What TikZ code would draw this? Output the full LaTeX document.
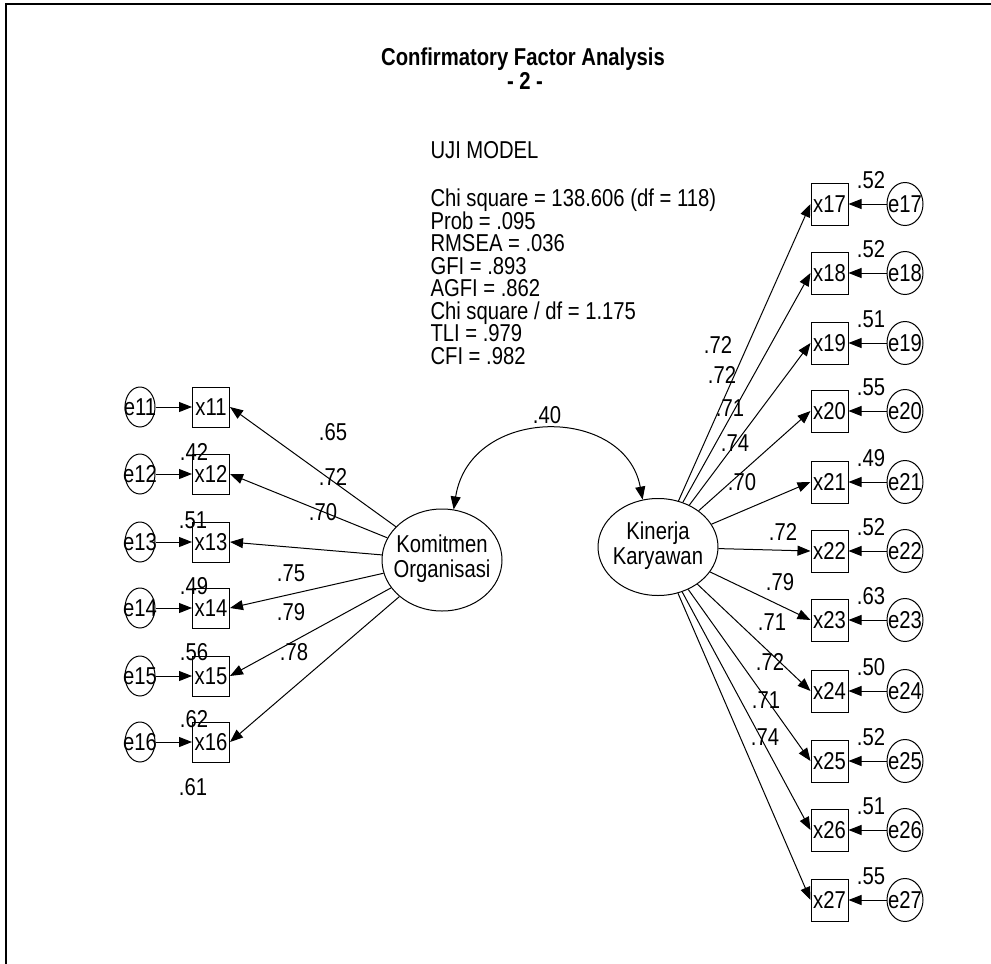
\documentclass[tikz,border=0pt]{standalone}
\usepackage{fontspec}
\setmainfont{Liberation Sans}[FakeStretch=0.83]
\usetikzlibrary{shapes.geometric}
\usetikzlibrary{arrows.meta}

\begin{document}
\begin{tikzpicture}[x=0.5pt,y=-0.5pt,line width=0.5pt,
        font=\fontsize{12.2}{12.5}\selectfont,
        obs/.style={draw,rectangle,inner sep=0pt,minimum width=18.5pt,minimum height=21pt},
        err/.style={draw,ellipse,inner sep=0pt,minimum width=17pt,minimum height=21pt},
        lat/.style={draw,ellipse,inner sep=0pt,minimum width=60pt,minimum height=51pt},
        arr/.style={-{Triangle[length=6.5pt,width=5pt]}},
        dblarr/.style={{Triangle[length=6.5pt,width=5pt]}-{Triangle[length=6.5pt,width=5pt]}}]
                \useasboundingbox (0,0) rectangle (991,964);
                \draw[line width=1.2pt] (6,964) -- (6,4) -- (991,4);
                \node[font=\fontsize{12.2}{12.5}\selectfont\bfseries] (title) at (523,59) {Confirmatory Factor Analysis};
                \node[font=\fontsize{12.2}{12.5}\selectfont\bfseries] (nr) at (525,81) {- 2 -};
                \node[anchor=base west,inner sep=0pt] (uji) at (430,158.7) {UJI MODEL};
                \foreach \t [count=\i from 0] in {Chi square = 138.606 (df = 118), Prob = .095, RMSEA = .036, GFI = .893,
                        AGFI = .862, Chi square / df = 1.175, TLI = .979, CFI = .982} {
                    \node[anchor=base west,inner sep=0pt] (fit\i) at (430,206.7+22.5*\i) {\t};
                }
                % faktor laten
                \node[lat] (kom) at (442,560) {\makebox[0pt]{\begin{tabular}{@{}c@{}}Komitmen\\Organisasi\end{tabular}}};
                \node[lat,minimum height=48.5pt] (kin) at (658,547) {\makebox[0pt]{\begin{tabular}{@{}c@{}}Kinerja\\Karyawan\end{tabular}}};
                \draw[dblarr] (kom.77) .. controls (470,405) and (625,405) .. (kin.108);
                \node (r40) at (547,415) {.40};
                % indikator kiri
                \foreach \n/\y in {11/407, 12/474, 13/542, 14/608, 15/676, 16/742} {
                    \node[obs,minimum height=20pt] (x\n) at (211,\y) {x\n};
                    \node[err,minimum width=15pt,minimum height=20pt] (e\n) at (140,\y) {\makebox[0pt]{e\n}};
                    \draw[arr] (e\n) -- (x\n);
                    \draw[arr] (kom) -- (x\n.east);
                }
                \foreach \v/\x/\y [count=\i] in {.42/194/452, .51/193/520, .49/194/586, .56/194/652, .62/194/719, .61/193/787} {
                    \node (rl\i) at (\x,\y) {\v};
                }
                \foreach \v/\x/\y [count=\i] in {.65/333/432, .72/333/477, .70/323/512, .75/291/573, .79/291/612, .78/294/652} {
                    \node (ll\i) at (\x,\y) {\v};
                }
                % indikator kanan
                \foreach \n/\y/\r in {17/204/.52, 18/273/.52, 19/343/.51, 20/411/.55, 21/482/.49, 22/551/.52,
                        23/620/.63, 24/691/.50, 25/761/.52, 26/830/.51, 27/900/.55} {
                    \node[obs] (x\n) at (829.5,\y) {x\n};
                    \node[err,minimum width=18pt,minimum height=21.5pt] (e\n) at (905,\y) {\makebox[0pt]{e\n}};
                    \draw[arr] (e\n) -- (x\n);
                    \draw[arr] (kin) -- (x\n.west);
                    \node (r\n) at (871,\y-24) {\r};
                }
                \foreach \v/\x/\y [count=\i] in {.72/718/345, .72/722/375, .71/730/408, .74/735/443, .70/742/482, .72/783/532,
                        .79/780/582, .71/772/622, .72/770/662, .71/766/700, .74/765/737} {
                    \node (lr\i) at (\x,\y) {\v};
                }
\end{tikzpicture}
\end{document}
